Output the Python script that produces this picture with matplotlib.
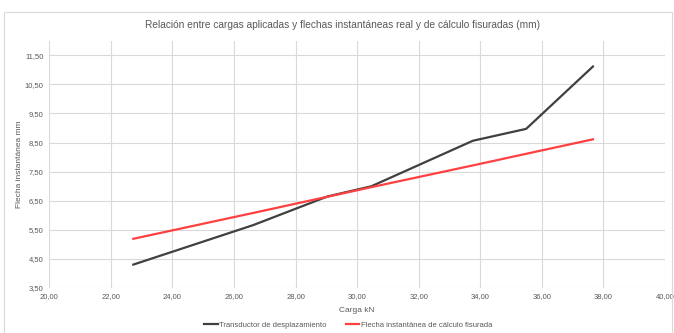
import numpy as np
import matplotlib
matplotlib.use('Agg')
import matplotlib.pyplot as plt
from matplotlib.ticker import FuncFormatter, MultipleLocator
from matplotlib.patches import Rectangle

plt.rcParams['font.family'] = ['Liberation Sans Narrow', 'Liberation Sans', 'DejaVu Sans']

# carga (kN) y flechas (mm)
carga = [22.73, 26.62, 29.04, 30.46, 33.76, 35.49, 37.66]
flecha_real = [4.29, 5.65, 6.64, 6.99, 8.56, 8.97, 11.12]
flecha_calculo = [5.18, 6.07, 6.63, 6.96, 7.71, 8.11, 8.61]

titulo = 'Relación entre cargas aplicadas y flechas instantáneas real y de cálculo fisuradas (mm)'
nombre_real = 'Transductor de desplazamiento'
nombre_calculo = 'Flecha instantánea de cálculo fisurada'

gris = '#595959'

fig = plt.figure(figsize=(6.74, 3.33), dpi=100)
ax = fig.add_axes([0.0731, 0.1366, 0.9135, 0.7403])

# marco del grafico
fig.patches.append(Rectangle((4 / 674, -0.01), 668 / 674, 1 - 12 / 333 + 0.01,
                             transform=fig.transFigure, fill=False,
                             edgecolor='#d9d9d9', linewidth=0.8))

ax.plot(carga, flecha_real, color='#404040', linewidth=1.6, label=nombre_real)
ax.plot(carga, flecha_calculo, color='#ff4040', linewidth=1.6, label=nombre_calculo)

ax.set_xlim(20, 40)
ax.set_ylim(3.5, 12.0)
ax.xaxis.set_major_locator(MultipleLocator(2))
ax.set_yticks(np.arange(3.5, 11.6, 1.0))

coma = FuncFormatter(lambda v, p: f'{v:.2f}'.replace('.', ','))
ax.xaxis.set_major_formatter(coma)
ax.yaxis.set_major_formatter(coma)

ax.grid(True, color='#d9d9d9', linewidth=0.8)
ax.set_axisbelow(True)
for s in ax.spines.values():
    s.set_visible(False)
ax.tick_params(length=0, labelsize=5.5, colors=gris, pad=4)

ax.set_xlabel('Carga kN', fontsize=6, color=gris, labelpad=5)
ax.set_ylabel('Flecha instantánea mm', fontsize=6, color=gris, labelpad=1)
fig.text(0.508, 1 - 25 / 333, titulo, fontsize=7.3, color=gris, ha='center', va='center')

fig.legend(loc='center', bbox_to_anchor=(348 / 674, 8 / 333), ncol=2, frameon=False,
           fontsize=5.5, labelcolor=gris, handlelength=1.8, handletextpad=0.2,
           columnspacing=2.5)

fig.savefig('out.png', dpi=100)
